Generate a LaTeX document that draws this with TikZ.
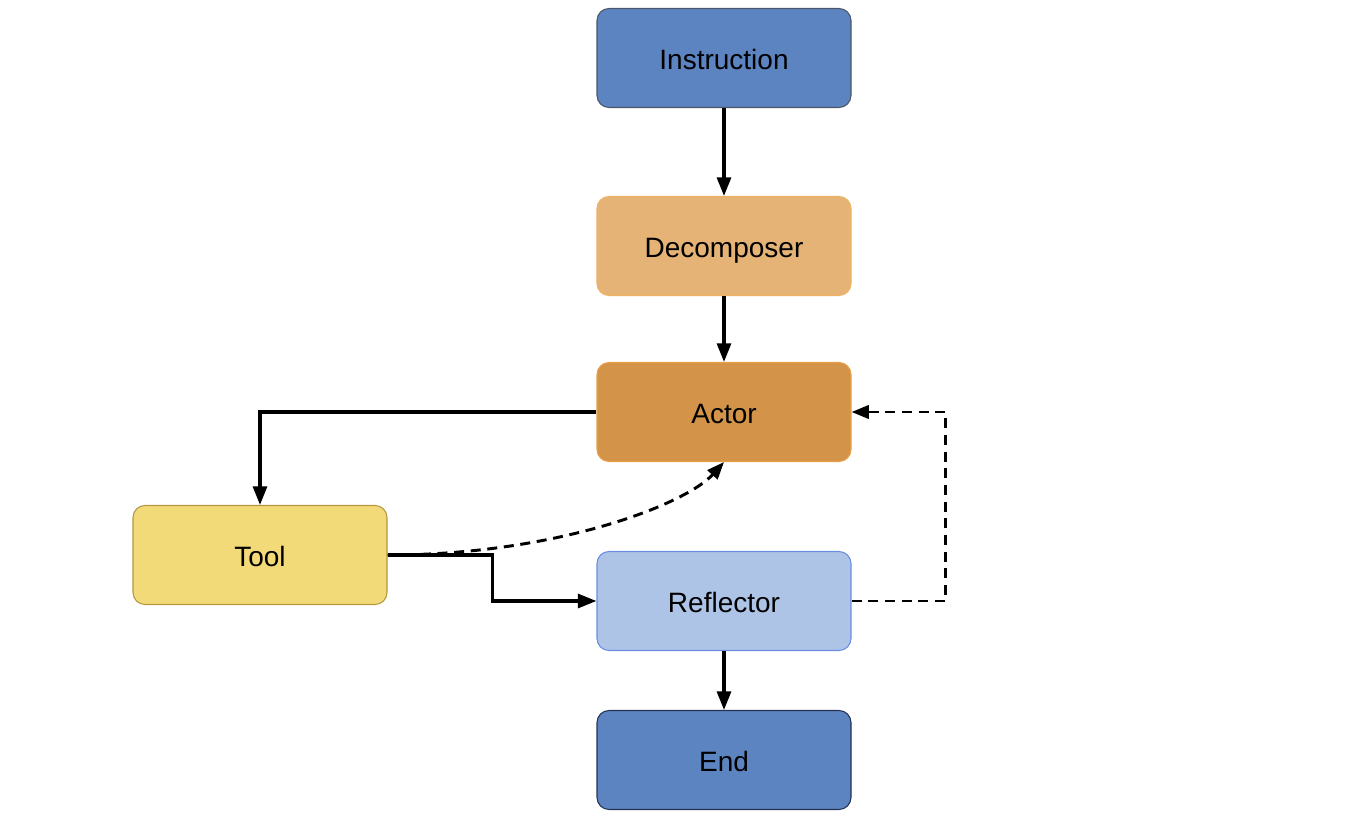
\documentclass[tikz,border=0pt]{standalone}
\usepackage{fontspec}
\setmainfont{Liberation Sans}
\usetikzlibrary{arrows.meta}

\definecolor{instrblue}{RGB}{92,132,192}
\definecolor{instrline}{RGB}{75,85,105}
\definecolor{endline}{RGB}{35,50,85}
\definecolor{decofill}{RGB}{229,179,117}
\definecolor{decoline}{RGB}{238,178,100}
\definecolor{actorfill}{RGB}{211,148,74}
\definecolor{actorline}{RGB}{232,160,70}
\definecolor{toolfill}{RGB}{243,218,120}
\definecolor{toolline}{RGB}{180,150,60}
\definecolor{reflfill}{RGB}{174,196,230}
\definecolor{reflline}{RGB}{105,140,228}

\tikzset{
	box/.style={draw, rounded corners=9pt, line width=0.8pt, minimum width=190.5pt, minimum height=74.25pt, inner sep=0pt, text height=17pt, text depth=0pt, font=\fontsize{21}{25}\selectfont},
	flow/.style={line width=2.4pt, -{Triangle[length=14pt,width=10.5pt]}},
	back/.style={line width=2.2pt, dash pattern=on 7.5pt off 5pt, -{Triangle[length=13pt,width=10pt]}}
}

\begin{document}
\begin{tikzpicture}[x=0.75pt, y=-0.75pt]
				\useasboundingbox (0,0) rectangle (1368,816);
				%main column
				\node (instr) at (724, 58) [box, fill=instrblue, draw=instrline]{Instruction};
				\node (decomp) at (724, 246) [box, fill=decofill, draw=decoline]{Decomposer};
				\node (actor) at (724, 412) [box, fill=actorfill, draw=actorline]{Actor};
				\node (refl) at (724, 601) [box, fill=reflfill, draw=reflline]{Reflector};
				\node (end) at (724, 760) [box, fill=instrblue, draw=endline]{End};
				%side
				\node (tool) at (260, 555) [box, fill=toolfill, draw=toolline]{Tool};
				
				\draw[flow] (instr) -- (decomp);
				\draw[flow] (decomp) -- (actor);
				\draw[flow] (actor.west) -| (tool.north);
				\draw[flow] (tool.east) -- ++(105, 0) |- (refl.west);
				\draw[flow] (refl) -- (end);
				
				%feedback
				\draw[back] (tool.east) .. controls +(170, 0) and +(-38, 42) .. (actor.south);
				\draw[back] (refl.east) -- ++(94, 0) |- (actor.east);
			\end{tikzpicture}
\end{document}
